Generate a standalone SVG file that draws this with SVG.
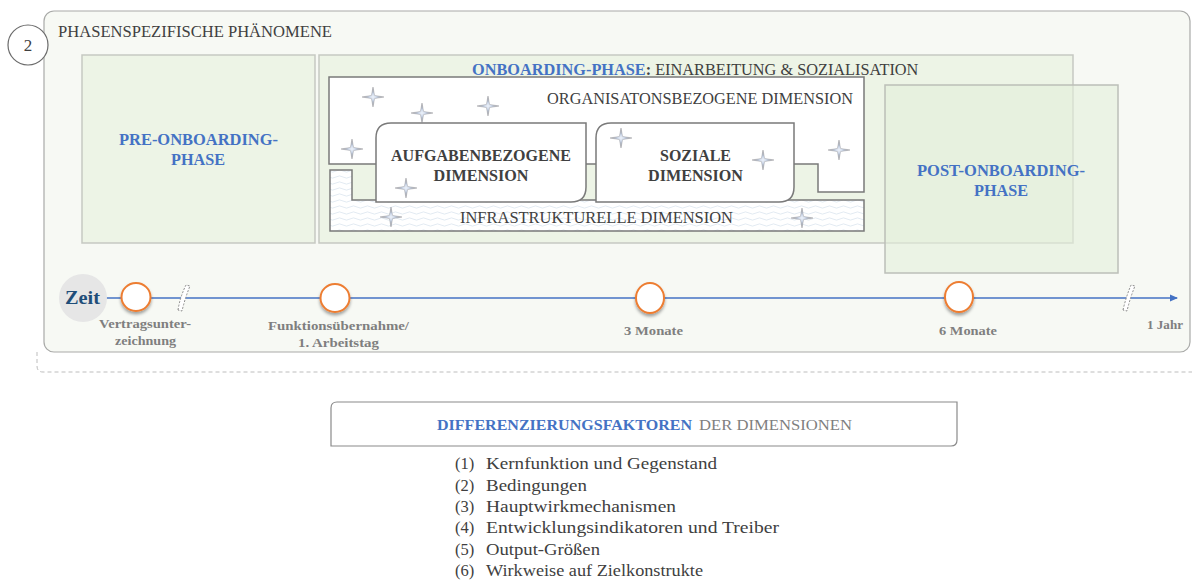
<svg xmlns="http://www.w3.org/2000/svg" width="1192" height="580" viewBox="0 0 1192 580">
  <style>
    .serif { font-family: "Liberation Serif", "DejaVu Serif", serif; }
    .dark { fill: #404040; }
    .blue { fill: #4472c4; font-weight: bold; }
    .phase { fill: #edf4e6; stroke: #c6c9c2; stroke-width: 1.5; }
    .dimbox { fill: #ffffff; stroke: #7a7a7a; stroke-width: 1.5; }
    .dimlabel { font-weight: bold; fill: #404040; font-size: 17px; text-anchor: middle; }
    .ms { fill: #ffffff; stroke: #ed7d31; stroke-width: 2; filter: url(#shadow); }
    .mslabel { font-weight: bold; fill: #7f7f7f; font-size: 13px; text-anchor: middle; }
    .brk { fill: #ffffff; stroke: #8c8c8c; stroke-width: 1; stroke-dasharray: 2 1.5; }
    .list { fill: #404040; font-size: 16.5px; }
  </style>
  <defs>
    <filter id="shadow" x="-50%" y="-50%" width="200%" height="200%">
      <feDropShadow dx="0" dy="2.5" stdDeviation="1.5" flood-color="#000" flood-opacity="0.35"/>
    </filter>
    <radialGradient id="starFill" cx="0.5" cy="0.5" r="0.5">
      <stop offset="0" stop-color="#eef3fb"/>
      <stop offset="0.35" stop-color="#c9d4e6"/>
      <stop offset="1" stop-color="#7d7d82"/>
    </radialGradient>
    <path id="star" d="M0,-10 L1.6,-1.6 L11,0 L1.6,1.6 L0,10 L-1.6,1.6 L-11,0 L-1.6,-1.6 Z" fill="url(#starFill)" stroke="#8e8e92" stroke-width="0.4"/>
    <pattern id="waves" width="14" height="6" patternUnits="userSpaceOnUse">
      <rect width="14" height="6" fill="#ffffff"/>
      <path d="M0,3 Q3.5,0.8 7,3 T14,3" fill="none" stroke="#dbe4ef" stroke-width="0.8"/>
    </pattern>
    <marker id="arrow" markerWidth="8" markerHeight="8" refX="7" refY="4" orient="auto" markerUnits="userSpaceOnUse">
      <path d="M0,0.5 L8,4 L0,7.5 Z" fill="#4472c4"/>
    </marker>
  </defs>

  <!-- frame -->
  <path d="M37,352 V366 Q37,372 43,372 H1192" fill="none" stroke="#bdbdbd" stroke-width="1" stroke-dasharray="4 3"/>
  <rect x="44" y="11" width="1146" height="341" rx="10" fill="#f7f9f4" stroke="#a9aaa8" stroke-width="1.2"/>

  <g id="section-number">
    <circle cx="28" cy="45" r="20" fill="#ffffff" stroke="#6b6b6b" stroke-width="1.2"/>
    <text x="28" y="51" class="serif dark" font-size="17" text-anchor="middle">2</text>
  </g>
  <text x="58" y="37" class="serif dark" font-size="17" textLength="274" lengthAdjust="spacingAndGlyphs">PHASENSPEZIFISCHE PHÄNOMENE</text>

  <!-- phases -->
  <g id="pre-onboarding">
    <rect x="82" y="55" width="233" height="188" class="phase"/>
    <text x="198.5" y="145" class="serif blue" font-size="16" text-anchor="middle" textLength="159" lengthAdjust="spacingAndGlyphs">PRE-ONBOARDING-</text>
    <text x="198" y="165" class="serif blue" font-size="16" text-anchor="middle" textLength="54" lengthAdjust="spacingAndGlyphs">PHASE</text>
  </g>

  <g id="onboarding">
    <rect x="319" y="55" width="754" height="188" class="phase"/>
    <text x="472" y="75" class="serif" font-size="16.3"><tspan class="blue">ONBOARDING-PHASE</tspan><tspan class="dark" font-weight="bold">:</tspan><tspan class="dark"> EINARBEITUNG &amp; SOZIALISATION</tspan></text>
  </g>

  <g id="organisationsbezogene-dimension">
    <path d="M329,77 H864 V192 H818 V164 H329 Z" class="dimbox"/>
    <text x="547" y="104" class="serif dark" font-size="17" textLength="306" lengthAdjust="spacingAndGlyphs">ORGANISATONSBEZOGENE DIMENSION</text>
  </g>

  <g id="infrastrukturelle-dimension">
    <path d="M330,170 H352 V200 H864 V231 H330 Z" fill="url(#waves)" stroke="#7a7a7a" stroke-width="1.5"/>
    <text x="460" y="223" class="serif dark" font-size="17" textLength="273" lengthAdjust="spacingAndGlyphs">INFRASTRUKTURELLE DIMENSION</text>
  </g>

  <g id="aufgabenbezogene-dimension">
    <path d="M391,123 H586 V187 Q586,202 571,202 H376 V138 Q376,123 391,123 Z" class="dimbox"/>
    <text x="481" y="161" class="serif dimlabel" textLength="180" lengthAdjust="spacingAndGlyphs">AUFGABENBEZOGENE</text>
    <text x="481" y="181" class="serif dimlabel" textLength="95" lengthAdjust="spacingAndGlyphs">DIMENSION</text>
  </g>

  <g id="soziale-dimension">
    <path d="M611,123 H794 V187 Q794,202 779,202 H596 V138 Q596,123 611,123 Z" class="dimbox"/>
    <text x="695.5" y="161" class="serif dimlabel" textLength="71" lengthAdjust="spacingAndGlyphs">SOZIALE</text>
    <text x="695.5" y="181" class="serif dimlabel" textLength="95" lengthAdjust="spacingAndGlyphs">DIMENSION</text>
  </g>

  <!-- sparkles -->
  <g id="sparkles">
    <use href="#star" x="373" y="97"/>
    <use href="#star" x="422" y="113"/>
    <use href="#star" x="488" y="106"/>
    <use href="#star" x="352" y="149"/>
    <use href="#star" x="406" y="188"/>
    <use href="#star" x="621" y="138"/>
    <use href="#star" x="763" y="160"/>
    <use href="#star" x="839" y="150"/>
    <use href="#star" x="391" y="217"/>
    <use href="#star" x="802" y="218"/>
  </g>

  <g id="post-onboarding">
    <rect x="885" y="85" width="233" height="188" fill="#e3eeda" fill-opacity="0.6" stroke="#bcbfb8" stroke-width="1.5"/>
    <text x="1001" y="176" class="serif blue" font-size="16" text-anchor="middle" textLength="168" lengthAdjust="spacingAndGlyphs">POST-ONBOARDING-</text>
    <text x="1001" y="196" class="serif blue" font-size="16" text-anchor="middle" textLength="54" lengthAdjust="spacingAndGlyphs">PHASE</text>
  </g>

  <!-- timeline -->
  <g id="connectors">
    <line x1="106" y1="298" x2="1177" y2="298" stroke="#4472c4" stroke-width="1.5" marker-end="url(#arrow)"/>
    <path d="M178,310 Q180,297 186,285 L190,286 Q185,298 182,311 Z" class="brk"/>
    <path d="M1123,310 Q1126,297 1131,285 L1135,286 Q1130,298 1127,311 Z" class="brk"/>
  </g>

  <g id="zeit">
    <circle cx="83" cy="298" r="24" fill="#e6e6e6"/>
    <text x="82.5" y="304" class="serif" font-size="18" font-weight="bold" fill="#1f4e79" text-anchor="middle" textLength="35" lengthAdjust="spacingAndGlyphs">Zeit</text>
  </g>

  <g id="vertragsunterzeichnung">
    <ellipse cx="136" cy="297" rx="14.5" ry="14" class="ms"/>
    <text x="145" y="328" class="serif mslabel" textLength="92" lengthAdjust="spacingAndGlyphs">Vertragsunter-</text>
    <text x="145.5" y="345" class="serif mslabel" textLength="61" lengthAdjust="spacingAndGlyphs">zeichnung</text>
  </g>

  <g id="funktionsuebernahme">
    <ellipse cx="335" cy="298" rx="14.5" ry="14" class="ms"/>
    <text x="338.5" y="330" class="serif mslabel" textLength="141" lengthAdjust="spacingAndGlyphs">Funktionsübernahme/</text>
    <text x="338.5" y="347" class="serif mslabel" textLength="81" lengthAdjust="spacingAndGlyphs">1. Arbeitstag</text>
  </g>

  <g id="drei-monate">
    <ellipse cx="650" cy="298" rx="14" ry="15" class="ms"/>
    <text x="653.5" y="335" class="serif mslabel" textLength="59" lengthAdjust="spacingAndGlyphs">3 Monate</text>
  </g>

  <g id="sechs-monate">
    <ellipse cx="959" cy="297" rx="14" ry="15" class="ms"/>
    <text x="968" y="335" class="serif mslabel" textLength="58" lengthAdjust="spacingAndGlyphs">6 Monate</text>
  </g>

  <g id="ein-jahr">
    <text x="1165" y="329" class="serif mslabel" textLength="36" lengthAdjust="spacingAndGlyphs">1 Jahr</text>
  </g>

  <!-- differentiation factors -->
  <g id="differenzierungsfaktoren">
    <path d="M337,402 H957 V440 Q957,446 951,446 H331 V408 Q331,402 337,402 Z" fill="#ffffff" stroke="#8a8a8a" stroke-width="1.2"/>
    <text x="437" y="430" class="serif blue" font-size="15" textLength="255" lengthAdjust="spacingAndGlyphs">DIFFERENZIERUNGSFAKTOREN</text>
    <text x="699" y="430" class="serif" font-size="15" fill="#7f7f7f" textLength="153" lengthAdjust="spacingAndGlyphs">DER DIMENSIONEN</text>
  </g>

  <g id="factor-list" class="serif list">
    <text x="455" y="469">(1)</text><text x="486" y="469" textLength="231" lengthAdjust="spacingAndGlyphs">Kernfunktion und Gegenstand</text>
    <text x="455" y="490.5">(2)</text><text x="486" y="490.5" textLength="101" lengthAdjust="spacingAndGlyphs">Bedingungen</text>
    <text x="455" y="512">(3)</text><text x="486" y="512" textLength="190" lengthAdjust="spacingAndGlyphs">Hauptwirkmechanismen</text>
    <text x="455" y="533">(4)</text><text x="486" y="533" textLength="293" lengthAdjust="spacingAndGlyphs">Entwicklungsindikatoren  und Treiber</text>
    <text x="455" y="554.5">(5)</text><text x="486" y="554.5" textLength="114" lengthAdjust="spacingAndGlyphs">Output-Größen</text>
    <text x="455" y="576">(6)</text><text x="486" y="576" textLength="217" lengthAdjust="spacingAndGlyphs">Wirkweise auf Zielkonstrukte</text>
  </g>
</svg>
